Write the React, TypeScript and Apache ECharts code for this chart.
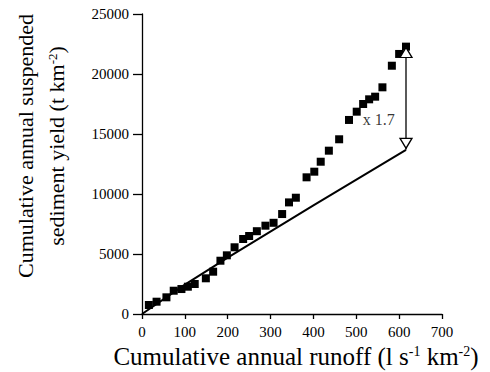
import React, { useEffect, useRef } from "react";
import * as echarts from "echarts";

const xTicks = [0, 700, 100];
const yTicks = [0, 25000, 5000];

const observed: [number, number][] = [
  [16, 750], [34, 1025], [57, 1390], [74, 1940], [92, 2080], [107, 2275],
  [123, 2500], [149, 2975], [166, 3525], [183, 4440], [198, 4890], [216, 5560],
  [236, 6250], [250, 6500], [268, 6900], [288, 7360], [307, 7600], [327, 8330],
  [343, 9300], [359, 9690], [384, 11390], [402, 11860], [417, 12690], [436, 13610],
  [460, 14560], [483, 16170], [501, 16860], [516, 17500], [530, 17890], [544, 18110],
  [561, 18890], [583, 20690], [600, 21670], [616, 22280],
];

const reference: [number, number][] = [
  [0, 0], [100, 2450], [200, 4700], [400, 9050], [616, 13670],
];

const arrowLine: [number, number][] = [[616, 22140], [616, 13700]];
const arrowUp: [number, number][] = [[616, 21790]];
const arrowDown: [number, number][] = [[616, 14225]];
const ratioLabel: [number, number, string][] = [[515, 16170, "x 1.7"]];

const FONT = "'Liberation Serif', 'Times New Roman', serif";

export default function App() {
  const ref = useRef<HTMLDivElement>(null);
  useEffect(() => {
    if (!ref.current) return;
    const chart = echarts.init(ref.current, undefined, { renderer: "svg" });
    chart.setOption({
      animation: false,
      backgroundColor: "#fff",
      textStyle: { fontFamily: FONT, color: "#000" },
      grid: { left: 142, top: 14, right: 48, bottom: 58 },
      xAxis: {
        type: "value",
        min: xTicks[0],
        max: xTicks[1],
        interval: xTicks[2],
        splitLine: { show: false },
        axisLine: { lineStyle: { color: "#000", width: 1.3 } },
        axisTick: { length: 5, lineStyle: { color: "#000", width: 1.3 } },
        axisLabel: {
          color: "#000",
          fontFamily: FONT,
          fontSize: 15,
          margin: 10,
          formatter: (v: number) => String(v),
        },
      },
      yAxis: {
        type: "value",
        min: yTicks[0],
        max: yTicks[1],
        interval: yTicks[2],
        splitLine: { show: false },
        axisLine: { show: true, lineStyle: { color: "#000", width: 1.3 } },
        axisTick: { show: true, length: 9, lineStyle: { color: "#000", width: 1.3 } },
        axisLabel: {
          color: "#000",
          fontFamily: FONT,
          fontSize: 15,
          margin: 13,
          formatter: (v: number) => String(v),
        },
      },
      series: [
        {
          type: "line",
          data: reference,
          symbol: "none",
          lineStyle: { color: "#000", width: 2 },
          z: 2,
        },
        {
          type: "line",
          data: arrowLine,
          symbol: "none",
          lineStyle: { color: "#000", width: 1.3 },
          z: 2,
        },
        {
          type: "scatter",
          data: observed,
          symbol: "rect",
          symbolSize: 8,
          itemStyle: { color: "#000", opacity: 1 },
          z: 3,
        },
        {
          type: "scatter",
          data: arrowUp,
          symbol: "triangle",
          symbolSize: [12, 10],
          itemStyle: { color: "#fff", borderColor: "#000", borderWidth: 1.3, opacity: 1 },
          z: 4,
        },
        {
          type: "scatter",
          data: arrowDown,
          symbol: "triangle",
          symbolRotate: 180,
          symbolSize: [12, 10],
          itemStyle: { color: "#fff", borderColor: "#000", borderWidth: 1.3, opacity: 1 },
          z: 4,
        },
        {
          type: "scatter",
          data: ratioLabel,
          symbolSize: 0,
          label: {
            show: true,
            position: "right",
            distance: 0,
            formatter: (p: any) => p.data[2],
            color: "#000",
            fontFamily: FONT,
            fontSize: 16,
          },
          z: 5,
        },
      ],
      graphic: [
        {
          type: "text",
          x: 296,
          y: 356,
          style: {
            text: "{n|Cumulative annual runoff (l s}{s|-1}{n| km}{s|-2}{n|)}",
            align: "center",
            verticalAlign: "middle",
            rich: {
              n: { fontFamily: FONT, fontSize: 25, lineHeight: 28, fill: "#000" },
              s: { fontFamily: FONT, fontSize: 14, lineHeight: 14, padding: [0, 0, 9, 0], fill: "#000" },
            },
          },
        },
        {
          type: "text",
          x: 41,
          y: 146,
          rotation: Math.PI / 2,
          style: {
            text: "{n|Cumulative annual suspended}\n{n|sediment yield (t km}{s|-2}{n|)}",
            align: "center",
            verticalAlign: "middle",
            rich: {
              n: { fontFamily: FONT, fontSize: 22, lineHeight: 31, fill: "#000" },
              s: { fontFamily: FONT, fontSize: 13, lineHeight: 13, padding: [0, 0, 8, 0], fill: "#000" },
            },
          },
        },
      ],
    });
    return () => chart.dispose();
  }, []);
  return (
    <div
      ref={ref}
      style={{ position: "fixed", left: 0, top: 0, width: 490, height: 372 }}
    />
  );
}
